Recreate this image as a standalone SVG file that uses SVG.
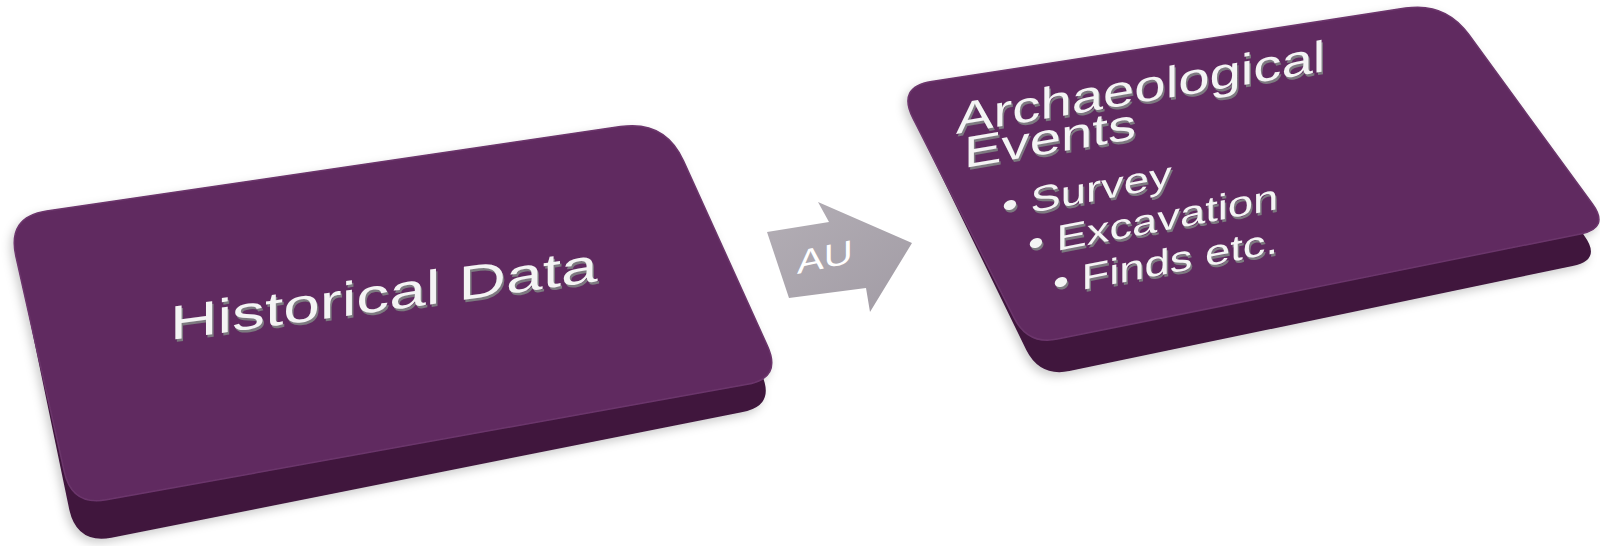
<svg xmlns="http://www.w3.org/2000/svg" width="1600" height="546" viewBox="0 0 1600 546">
  <defs>
    <filter id="shadow" x="-10%" y="-10%" width="120%" height="130%">
      <feDropShadow dx="-3" dy="4" stdDeviation="5" flood-color="#000" flood-opacity="0.2"/>
    </filter>
    <linearGradient id="arrowGrad" x1="0" y1="0" x2="1" y2="1">
      <stop offset="0" stop-color="#b3aeb5"/>
      <stop offset="1" stop-color="#a29ca5"/>
    </linearGradient>
  </defs>
  <style>
    .side { fill: #3f173d; }
    .top { fill: #602c60; stroke: #6c366c; stroke-width: 1.5; }
    .lbl { font-family: "Liberation Sans", Arial, sans-serif; fill: #f4f4f4; }
    .lblsh { font-family: "Liberation Sans", Arial, sans-serif; fill: #7d7a80; }
    .arrow { fill: url(#arrowGrad); }
    .au { font-family: "Liberation Sans", Arial, sans-serif; fill: #ffffff; }
  </style>

  <g id="node-historical" filter="url(#shadow)">
    <path class="side" d="M 53.6,241 L 620.5,148.6 Q 665,142 683.6,183 L 761.5,374 Q 776,406 741.6,412.2 L 111.4,537.8 Q 77,544 69.3,509.8 L 22.8,286 Q 14,247 53.6,241 Z"/>
    <path class="top" d="M 46.6,211 L 620.5,126.6 Q 665,120 683.6,161 L 767.5,346 Q 782,378 747.6,384.2 L 106.4,499.8 Q 72,506 64.3,471.8 L 15.8,256 Q 7,217 46.6,211 Z"/>
    <g font-size="48">
      <text class="lblsh" transform="matrix(1.37 -0.188 0 1 171.5 342.5)">Historical Data</text>
      <text class="lbl" transform="matrix(1.37 -0.188 0 1 170 340)">Historical Data</text>
    </g>
  </g>

  <g id="node-archaeological" filter="url(#shadow)">
    <path class="side" d="M 946.6,111.6 L 1405.5,34.1 Q 1445,28 1468.6,60.3 L 1584.3,235.8 Q 1602,260 1572.6,265.9 L 1069.4,371.1 Q 1040,377 1026.4,350.3 L 927.9,148.2 Q 912,117 946.6,111.6 Z"/>
    <path class="top" d="M 931.6,81.6 L 1405.5,8.1 Q 1445,2 1468.6,34.3 L 1592.3,203.8 Q 1610,228 1580.6,233.9 L 1057.4,339.1 Q 1028,345 1014.4,318.3 L 912.9,118.2 Q 897,87 931.6,81.6 Z"/>
    <g font-size="44">
      <text class="lblsh" transform="matrix(1.28 -0.218 0 1 957.5 136.5)">Archaeological</text>
      <text class="lbl" transform="matrix(1.28 -0.218 0 1 956 134)">Archaeological</text>
      <text class="lblsh" transform="matrix(1.28 -0.218 0 1 965.5 170.5)">Events</text>
      <text class="lbl" transform="matrix(1.28 -0.218 0 1 964 168)">Events</text>
    </g>
    <g font-size="36">
      <text class="lblsh" transform="matrix(1.26 -0.24 0 1 1003.5 221)">• Survey</text>
      <text class="lbl" transform="matrix(1.26 -0.24 0 1 1002 218.5)">• Survey</text>
      <text class="lblsh" transform="matrix(1.26 -0.24 0 1 1029.5 259)">• Excavation</text>
      <text class="lbl" transform="matrix(1.26 -0.24 0 1 1028 256.5)">• Excavation</text>
      <text class="lblsh" transform="matrix(1.26 -0.24 0 1 1054.5 298)">• Finds etc.</text>
      <text class="lbl" transform="matrix(1.26 -0.24 0 1 1053 295.5)">• Finds etc.</text>
    </g>
  </g>

  <g id="connectors">
    <g id="arrow-au">
      <path class="arrow" d="M 767,232 L 829,222 L 818,202 L 912,243 L 870,312 L 866,288 L 789,298 Z"/>
      <text class="au" font-size="33" transform="matrix(1.22 -0.25 0 1 797 274)">AU</text>
    </g>
  </g>
</svg>
